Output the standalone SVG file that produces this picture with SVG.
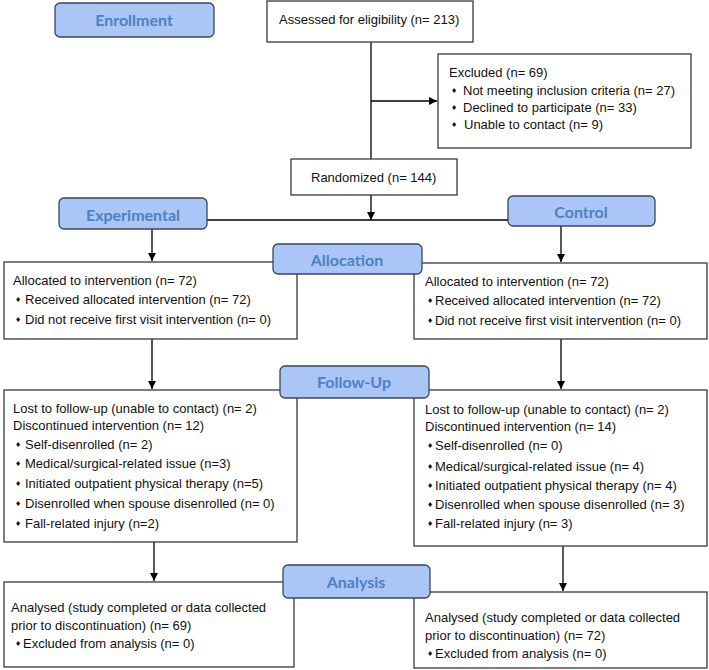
<svg xmlns="http://www.w3.org/2000/svg" width="709" height="670" viewBox="0 0 709 670">
<style>
.box{fill:#fff;stroke:#3a3a3a;stroke-width:1.3}
.hd{fill:#a9c6f7;stroke:#3b4657;stroke-width:1.3}
.ht{font-family:Lato,"Open Sans",sans-serif;font-weight:bold;font-size:16px;fill:#4f80c0;text-anchor:middle}
.t{font-family:"Liberation Sans",Arial,sans-serif;font-size:13px;fill:#111}
.b{font-family:"DejaVu Sans",sans-serif;font-size:7px;fill:#111}
.c{stroke:#000;stroke-width:1.3;fill:none}
</style>
<defs>
<marker id="ah" markerUnits="userSpaceOnUse" markerWidth="9" markerHeight="8" refX="8" refY="4" orient="auto">
<path d="M0,0 L8,4 L0,8 z" fill="#000"/>
</marker>
</defs>
<rect width="709" height="670" fill="#fff"/>
<g id="connectors">
<line class="c" x1="371" y1="42" x2="371" y2="159"/>
<line class="c" x1="371" y1="101" x2="437" y2="101" marker-end="url(#ah)"/>
<line class="c" x1="371" y1="195" x2="371" y2="220" marker-end="url(#ah)"/>
<line class="c" x1="207" y1="220" x2="508" y2="220"/>
<line class="c" x1="152" y1="229" x2="152" y2="261" marker-end="url(#ah)"/>
<line class="c" x1="561" y1="226" x2="561" y2="262" marker-end="url(#ah)"/>
<line class="c" x1="152" y1="339" x2="152" y2="389" marker-end="url(#ah)"/>
<line class="c" x1="561" y1="339" x2="561" y2="389" marker-end="url(#ah)"/>
<line class="c" x1="154" y1="542" x2="154" y2="581" marker-end="url(#ah)"/>
<line class="c" x1="563" y1="546" x2="563" y2="591" marker-end="url(#ah)"/>
</g>
<g id="assessed">
<rect class="box" x="267" y="1" width="206" height="41"/>
<text class="t" x="279" y="24">Assessed for eligibility (n= 213)</text>
</g>
<g id="excluded">
<rect class="box" x="438" y="54" width="253" height="94"/>
<text class="t" x="449" y="77">Excluded (n= 69)</text>
<text class="b" x="451" y="93">♦</text><text class="t" x="463" y="95">Not meeting inclusion criteria (n= 27)</text>
<text class="b" x="451" y="110">♦</text><text class="t" x="463" y="112">Declined to participate (n= 33)</text>
<text class="b" x="451" y="127">♦</text><text class="t" x="464" y="129">Unable to contact  (n= 9)</text>
</g>
<g id="randomized">
<rect class="box" x="291" y="159" width="166" height="36"/>
<text class="t" x="311" y="182">Randomized (n= 144)</text>
</g>
<g id="alloc-left">
<rect class="box" x="4" y="262" width="293" height="77"/>
<text class="t" x="13" y="285">Allocated to intervention (n= 72)</text>
<text class="b" x="15" y="302">♦</text><text class="t" x="25" y="304">Received allocated intervention (n=  72)</text>
<text class="b" x="15" y="322">♦</text><text class="t" x="25" y="324">Did not receive first visit intervention (n= 0)</text>
</g>
<g id="alloc-right">
<rect class="box" x="414" y="263" width="293" height="76"/>
<text class="t" x="425" y="286">Allocated to intervention (n= 72)</text>
<text class="b" x="427" y="303">♦</text><text class="t" x="435" y="305">Received allocated intervention (n= 72)</text>
<text class="b" x="427" y="323">♦</text><text class="t" x="435" y="325">Did not receive first visit intervention (n= 0)</text>
</g>
<g id="follow-left">
<rect class="box" x="4" y="390" width="293" height="152"/>
<text class="t" x="13" y="413">Lost to follow-up (unable to contact) (n= 2)</text>
<text class="t" x="13" y="430">Discontinued intervention (n= 12)</text>
<text class="b" x="15" y="447">♦</text><text class="t" x="25" y="449">Self-disenrolled (n= 2)</text>
<text class="b" x="15" y="466">♦</text><text class="t" x="25" y="468">Medical/surgical-related issue (n=3)</text>
<text class="b" x="15" y="486">♦</text><text class="t" x="25" y="488">Initiated outpatient physical therapy (n=5)</text>
<text class="b" x="15" y="506">♦</text><text class="t" x="25" y="508">Disenrolled when spouse disenrolled (n= 0)</text>
<text class="b" x="15" y="526">♦</text><text class="t" x="25" y="528">Fall-related injury (n=2)</text>
</g>
<g id="follow-right">
<rect class="box" x="414" y="390" width="293" height="156"/>
<text class="t" x="425" y="414">Lost to follow-up (unable to contact) (n= 2)</text>
<text class="t" x="425" y="431">Discontinued intervention (n= 14)</text>
<text class="b" x="427" y="448">♦</text><text class="t" x="435" y="450">Self-disenrolled (n= 0)</text>
<text class="b" x="427" y="469">♦</text><text class="t" x="435" y="471">Medical/surgical-related issue (n= 4)</text>
<text class="b" x="427" y="488">♦</text><text class="t" x="435" y="490">Initiated outpatient physical therapy (n= 4)</text>
<text class="b" x="427" y="507">♦</text><text class="t" x="435" y="509">Disenrolled when spouse disenrolled (n= 3)</text>
<text class="b" x="427" y="526">♦</text><text class="t" x="435" y="528">Fall-related injury (n= 3)</text>
</g>
<g id="analysis-left">
<rect class="box" x="4" y="582" width="290" height="85"/>
<text class="t" x="11" y="612">Analysed (study completed or data collected</text>
<text class="t" x="11" y="630">prior to discontinuation) (n= 69)</text>
<text class="b" x="15" y="646">♦</text><text class="t" x="23" y="648">Excluded from analysis (n= 0)</text>
</g>
<g id="analysis-right">
<rect class="box" x="414" y="592" width="293" height="76"/>
<text class="t" x="425" y="622">Analysed (study completed or data collected</text>
<text class="t" x="425" y="640">prior to discontinuation) (n= 72)</text>
<text class="b" x="427" y="656">♦</text><text class="t" x="435" y="658">Excluded from analysis (n= 0)</text>
</g>
<g id="enrollment">
<rect class="hd" x="55" y="3" width="159" height="34" rx="5"/>
<text class="ht" x="134" y="26">Enrollment</text>
</g>
<g id="experimental">
<rect class="hd" x="59" y="198" width="148" height="31" rx="5"/>
<text class="ht" x="133" y="221">Experimental</text>
</g>
<g id="control">
<rect class="hd" x="508" y="196" width="147" height="30" rx="5"/>
<text class="ht" x="581" y="218">Control</text>
</g>
<g id="allocation">
<rect class="hd" x="273" y="244" width="149" height="30" rx="5"/>
<text class="ht" x="347" y="266">Allocation</text>
</g>
<g id="followup">
<rect class="hd" x="280" y="366" width="149" height="32" rx="5"/>
<text class="ht" x="354" y="388">Follow-Up</text>
</g>
<g id="analysis">
<rect class="hd" x="283" y="565" width="147" height="33" rx="5"/>
<text class="ht" x="356" y="588">Analysis</text>
</g>
</svg>
